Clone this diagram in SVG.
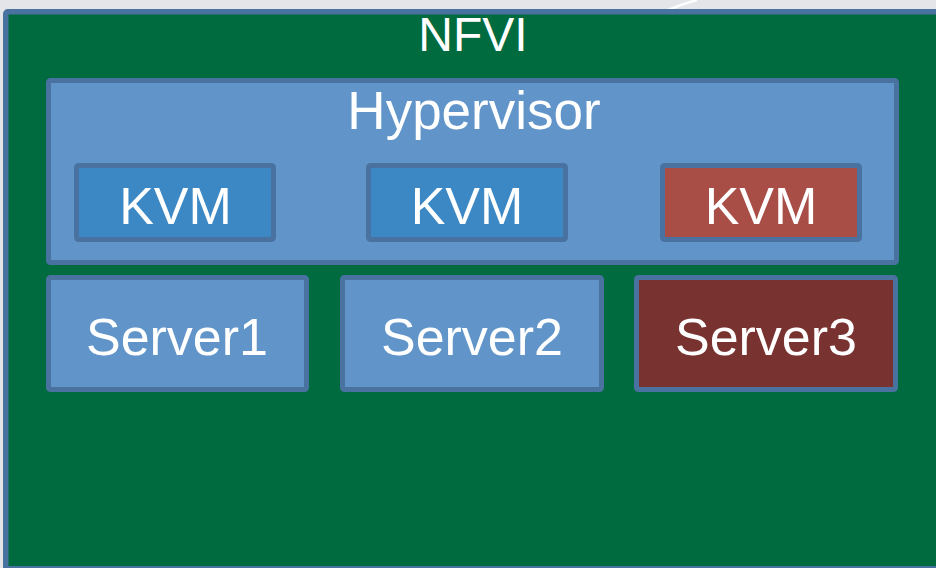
<svg xmlns="http://www.w3.org/2000/svg" width="936" height="568" viewBox="0 0 936 568">
  <style>
    .box { stroke: #4a72a0; stroke-width: 5; }
    .nfvi { fill: #006b3f; stroke: #4a72a0; stroke-width: 5.5; }
    .hyp { fill: #6195c9; }
    .kvm { fill: #3b88c4; }
    .kvmred { fill: #a84e47; }
    .srv { fill: #6195c9; }
    .srvred { fill: #78322f; }
    .lbl { font-family: "Liberation Sans", Arial, sans-serif; fill: #ffffff; text-anchor: middle; }
  </style>
  <rect x="0" y="0" width="936" height="568" fill="#e3e5e9"/>
  <path d="M697,0 Q682,4 668,10" fill="none" stroke="#ffffff" stroke-width="2.5" opacity="0.9"/>
  <g id="nfvi">
    <rect class="nfvi" x="5.75" y="11.75" width="1000" height="557" rx="2"/>
    <text class="lbl" x="473" y="50.5" font-size="48">NFVI</text>
  </g>
  <g id="hypervisor">
    <rect class="box hyp" x="48.5" y="80.5" width="848" height="182" rx="2"/>
    <text class="lbl" x="474" y="129" font-size="53">Hypervisor</text>
  </g>
  <g id="kvm1">
    <rect class="box kvm" x="76.5" y="165.5" width="197" height="74" rx="2"/>
    <text class="lbl" x="175.5" y="224" font-size="52">KVM</text>
  </g>
  <g id="kvm2">
    <rect class="box kvm" x="368.5" y="165.5" width="197" height="74" rx="2"/>
    <text class="lbl" x="467" y="224" font-size="52">KVM</text>
  </g>
  <g id="kvm3">
    <rect class="box kvmred" x="662.5" y="165.5" width="197" height="74" rx="2"/>
    <text class="lbl" x="761" y="224" font-size="52">KVM</text>
  </g>
  <g id="server1">
    <rect class="box srv" x="48.5" y="277.5" width="258" height="112" rx="2"/>
    <text class="lbl" x="177" y="355" font-size="52">Server1</text>
  </g>
  <g id="server2">
    <rect class="box srv" x="342.5" y="277.5" width="259" height="112" rx="2"/>
    <text class="lbl" x="472" y="355" font-size="52">Server2</text>
  </g>
  <g id="server3">
    <rect class="box srvred" x="636.5" y="277.5" width="259" height="112" rx="2"/>
    <text class="lbl" x="766" y="355" font-size="52">Server3</text>
  </g>
  <g id="connectors"/>
</svg>
